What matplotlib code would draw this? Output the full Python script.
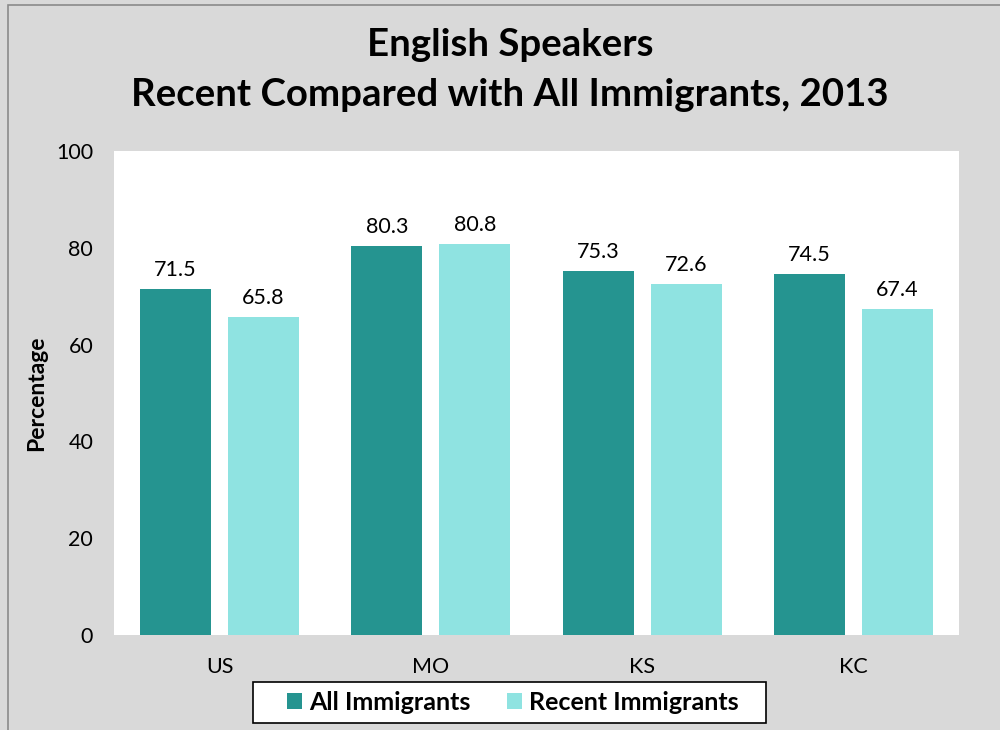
import matplotlib
matplotlib.use("Agg")
import matplotlib.pyplot as plt
from matplotlib.patches import Rectangle, Patch
import numpy as np

plt.rcParams['font.family'] = ['Lato', 'DejaVu Sans']

categories = ["US", "MO", "KS", "KC"]
all_immigrants = [71.5, 80.3, 75.3, 74.5]
recent_immigrants = [65.8, 80.8, 72.6, 67.4]
series_names = ["All Immigrants", "Recent Immigrants"]
y_ticks = [0, 20, 40, 60, 80, 100]

dark = "#259490"
light = "#8FE3E1"
bg = "#D9D9D9"

W, H = 1000, 730
fig = plt.figure(figsize=(W / 100, H / 100), dpi=100)
fig.patch.set_facecolor(bg)


def fx(px):
    return px / W


def fy(py):
    return 1 - py / H


# outer chart border (runs past the right and bottom edges)
fig.patches.append(Rectangle((fx(8), -0.05), 1.1, fy(5) + 0.05,
                             transform=fig.transFigure, fill=False,
                             edgecolor="#8A8A8A", linewidth=1.2))

ax = fig.add_axes([fx(114), fy(635), fx(959) - fx(114), fy(151) - fy(635)])
ax.set_facecolor("white")

x = np.arange(len(categories))
w = 0.336
gap = 0.08
off = (w + gap) / 2
b1 = ax.bar(x - off, all_immigrants, w, color=dark)
b2 = ax.bar(x + off, recent_immigrants, w, color=light)

for bars, vals in ((b1, all_immigrants), (b2, recent_immigrants)):
    for rect, v in zip(bars, vals):
        ax.annotate(f"{v:.1f}", (rect.get_x() + rect.get_width() / 2, v),
                    xytext=(0, 6.5), textcoords="offset points",
                    ha="center", va="bottom", fontsize=15.5)

ax.set_xlim(-0.5, len(categories) - 0.5)
ax.set_ylim(0, 100)
ax.set_yticks(y_ticks)
ax.set_xticks(x)
ax.set_xticklabels(categories)
ax.tick_params(axis="both", length=0, labelsize=15.5)
ax.tick_params(axis="y", pad=15)
ax.tick_params(axis="x", pad=16)
for s in ax.spines.values():
    s.set_visible(False)

ax.set_ylabel("Percentage", fontsize=16.5, fontweight="bold")
ax.yaxis.set_label_coords(-0.079, 0.5)

fig.text(0.51, fy(45), "English Speakers", ha="center", va="center",
         fontsize=27.6, fontweight="bold")
fig.text(0.51, fy(95), "Recent Compared with All Immigrants, 2013",
         ha="center", va="center", fontsize=27.6, fontweight="bold")

# legend box
fig.patches.append(Rectangle((fx(253), fy(723)), fx(766) - fx(253),
                             fy(682) - fy(723), transform=fig.transFigure,
                             facecolor="white", edgecolor="black",
                             linewidth=1.2, zorder=0))
handles = [Patch(facecolor=dark), Patch(facecolor=light)]
leg = fig.legend(handles, series_names, loc="center", ncol=2,
                 bbox_to_anchor=(fx(513), fy(702)), frameon=False,
                 prop={"weight": "bold", "size": 18},
                 handlelength=0.6, handleheight=0.6, handletextpad=0.28,
                 columnspacing=1.45, borderpad=0, borderaxespad=0)

fig.savefig("out.png", dpi=100, facecolor=bg)
